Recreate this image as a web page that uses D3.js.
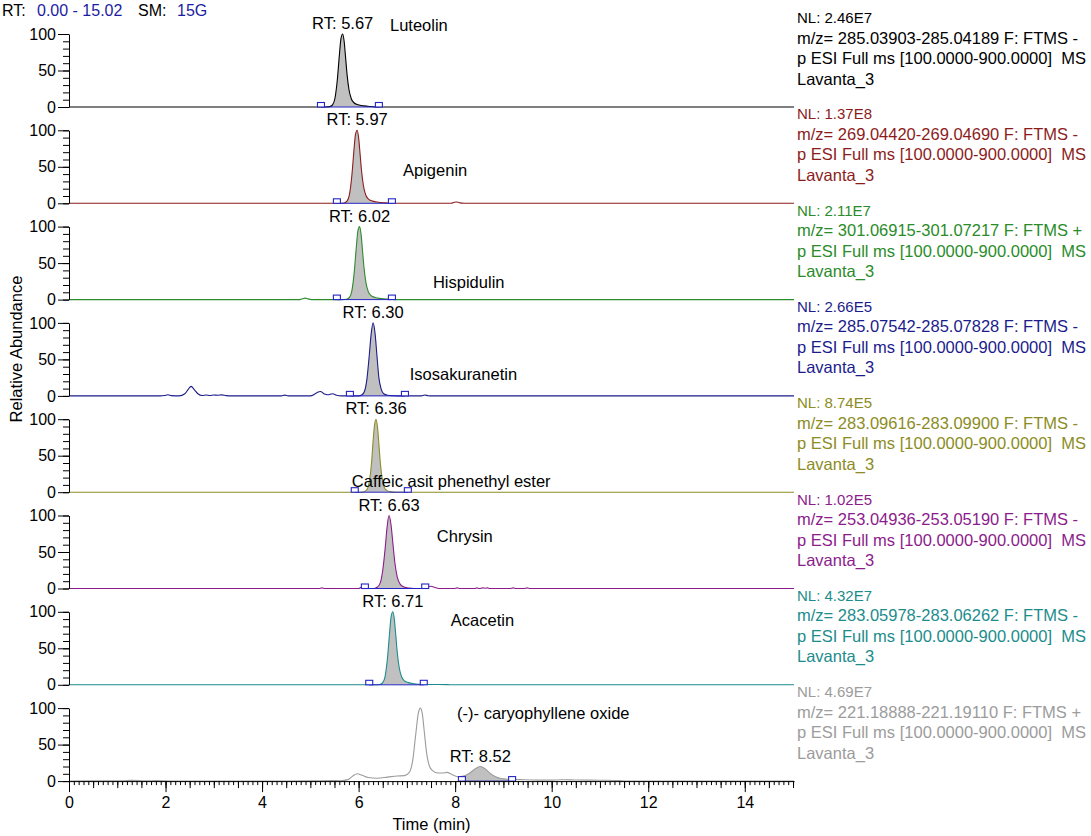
<!DOCTYPE html>
<html>
<head>
<meta charset="utf-8">
<script src="https://cdn.jsdelivr.net/npm/d3@7"></script>
<style>
  body { margin: 0; background: #fff; }
  svg { display: block; font-family: "Liberation Sans", Arial, sans-serif; }
  .pre { white-space: pre; }
</style>
</head>
<body>
<div id="chart"></div>
<script>
// ---- data ----
const timeRange = [0, 15.02];
const smoothing = "15G";
const sampleName = "Lavanta_3";
const scanFilter = "p ESI Full ms [100.0000-900.0000]  MS";
const xTicks = [0, 2, 4, 6, 8, 10, 12, 14];
const yTicks = [0, 50, 100];

const compounds = [
  "Luteolin", "Apigenin", "Hispidulin", "Isosakuranetin",
  "Caffeic asit phenethyl ester", "Chrysin", "Acacetin", "(-)- caryophyllene oxide"
];
const retentionTimes = ["5.67", "5.97", "6.02", "6.30", "6.36", "6.63", "6.71", "8.52"];
const normLevels = ["2.46E7", "1.37E8", "2.11E7", "2.66E5", "8.74E5", "1.02E5", "4.32E7", "4.69E7"];
const mzRanges = [
  "285.03903-285.04189", "269.04420-269.04690", "301.06915-301.07217", "285.07542-285.07828",
  "283.09616-283.09900", "253.04936-253.05190", "283.05978-283.06262", "221.18888-221.19110"
];
const polarities = ["-", "-", "+", "-", "-", "-", "-", "+"];
const peakBounds = [
  [5.22, 6.42], [5.55, 6.69], [5.55, 6.69], [5.82, 6.96],
  [5.92, 7.02], [6.13, 7.38], [6.22, 7.35], [8.14, 9.18]
];

// [time (min), relative abundance (%)]
const traces = [
  [[0,0],[5.3,0],[5.4,0.5],[5.46,3],[5.51,12],[5.56,38],[5.6,70],[5.635,94],[5.67,100],[5.7,90],[5.73,68],[5.76,45],[5.8,24],[5.85,11],[5.91,5.5],[5.99,3],[6.11,1.5],[6.26,0.6],[6.4,0],[15.02,0]],
  [[0,0],[5.6,0],[5.7,0.5],[5.76,3],[5.81,12],[5.86,38],[5.9,70],[5.935,94],[5.97,100],[6.0,90],[6.03,68],[6.06,45],[6.1,24],[6.15,11],[6.21,5.5],[6.29,3],[6.41,1.5],[6.56,0.6],[6.7,0],[7.92,0],[7.98,1.4],[8.04,1.8],[8.1,0.6],[8.18,0],[15.02,0]],
  [[0,0],[4.78,0],[4.84,1.2],[4.89,2],[4.95,1],[5.02,0],[5.65,0],[5.75,0.5],[5.81,3],[5.86,12],[5.91,38],[5.95,70],[5.985,94],[6.02,100],[6.05,90],[6.08,68],[6.11,45],[6.15,24],[6.2,11],[6.26,5.5],[6.34,3],[6.46,1.5],[6.61,0.6],[6.75,0],[15.02,0]],
  [[0,0],[1.9,0],[1.98,0.6],[2.05,1.5],[2.12,0.4],[2.28,0],[2.4,3],[2.47,9],[2.53,13],[2.59,9],[2.67,3],[2.76,0.6],[2.84,1.2],[2.92,0.5],[3.0,1.3],[3.08,0.9],[3.16,1.4],[3.26,0.4],[3.36,0],[4.4,0],[4.47,1],[4.54,0],[5.0,0],[5.08,2],[5.15,5],[5.21,6],[5.28,3],[5.36,1.5],[5.46,3],[5.54,1],[5.64,0],[6.0,0],[6.07,1.5],[6.12,6],[6.17,22],[6.22,55],[6.26,85],[6.3,100],[6.34,86],[6.38,55],[6.42,25],[6.47,9],[6.52,3],[6.6,1],[6.72,0.3],[6.85,0],[7.3,0],[7.37,1.2],[7.44,0.3],[7.52,0],[15.02,0]],
  [[0,0],[6.07,0],[6.14,1.5],[6.19,6],[6.23,18],[6.27,42],[6.3,70],[6.33,92],[6.36,100],[6.39,90],[6.42,66],[6.45,40],[6.49,18],[6.53,7],[6.58,2.5],[6.65,0.8],[6.77,0],[15.02,0]],
  [[0,0],[5.18,0],[5.24,0.8],[5.3,0],[6.0,0],[6.06,2],[6.11,3],[6.16,1],[6.22,0],[6.32,0],[6.39,2],[6.45,8],[6.5,25],[6.55,55],[6.59,84],[6.63,100],[6.67,88],[6.71,62],[6.75,36],[6.8,16],[6.86,6],[6.94,2],[7.04,0.5],[7.16,0],[7.36,0],[7.42,2],[7.5,3],[7.58,1.5],[7.66,0],[7.98,0],[8.04,0.8],[8.1,0],[8.4,0],[8.45,0.8],[8.5,0],[8.57,0.8],[8.62,0.4],[8.67,0.8],[8.72,0],[9.14,0],[9.2,0.8],[9.26,0],[9.43,0],[9.49,0.8],[9.55,0],[15.02,0]],
  [[0,0],[6.34,0],[6.44,0.5],[6.5,3],[6.55,12],[6.6,38],[6.64,70],[6.675,94],[6.71,100],[6.74,90],[6.77,68],[6.8,45],[6.84,24],[6.89,11],[6.95,5.5],[7.03,3],[7.15,1.5],[7.3,0.6],[7.45,0.5],[7.65,0.5],[7.85,0.3],[7.95,0],[15.02,0]],
  [[0,0],[0.4,0.3],[0.8,0.4],[1.1,0.3],[1.3,1],[1.45,0.8],[1.6,0.3],[1.8,0.6],[2.1,0.2],[3.0,0.2],[4.0,0.2],[5.0,0.3],[5.45,0.8],[5.62,0.4],[5.78,2],[5.88,7],[5.97,10],[6.07,8],[6.2,5],[6.38,4],[6.6,5.5],[6.8,7],[6.95,7.5],[7.05,12],[7.12,28],[7.18,62],[7.24,94],[7.28,100],[7.32,92],[7.36,68],[7.41,38],[7.47,20],[7.54,14],[7.64,11],[7.74,11],[7.83,12],[7.93,9],[8.05,6],[8.15,6.5],[8.28,10],[8.4,16],[8.52,20],[8.62,17],[8.72,11],[8.84,6],[8.95,3.5],[9.1,2.5],[9.34,2],[9.7,1.4],[10.0,1.4],[10.2,1.8],[10.5,1.5],[11.0,1.2],[11.4,0.8],[11.55,0],[15.02,0]]
];

// ---- styling / layout ----
const traceColors = ["#000000", "#8c1c1c", "#2a8c2a", "#1c1c8c", "#8c8c24", "#8c1c8c", "#1c8c8c", "#9c9c9c"];
// where the compound name sits, in [time, % of panel]
const nameAnchors = [[6.65, 104], [6.92, 37], [7.54, 16], [7.06, 22], [5.86, 7], [7.62, 64], [7.91, 81], [8.04, 85]];

class ChromatogramStack {
  constructor(el) {
    this.el = el;
    this.setup();
    this.scaffold();
    this.render();
  }

  setup() {
    this.width = 1091;
    this.height = 836;
    this.panelTop = 34;
    this.panelStep = 96.3;
    this.panelHeight = 73;
    this.font = "Liberation Sans, Arial, sans-serif";
    this.blue = "#2424c4";

    this.x = d3.scaleLinear().domain(timeRange).range([69, 794]);

    this.panels = compounds.map((name, i) => {
      const top = this.panelTop + i * this.panelStep;
      const points = traces[i];
      const [b0, b1] = peakBounds[i];
      const apex = points
        .filter((d) => d[0] >= b0 && d[0] <= b1)
        .reduce((a, d) => (d[1] > a[1] ? d : a));
      return {
        i,
        name,
        rt: retentionTimes[i],
        color: traceColors[i],
        points,
        bounds: peakBounds[i],
        apex,
        y: d3.scaleLinear().domain([0, 100]).range([top + this.panelHeight, top]),
      };
    });
  }

  scaffold() {
    this.svg = d3
      .select(this.el)
      .append("svg")
      .attr("width", this.width)
      .attr("height", this.height);

    const defs = this.svg.append("defs");
    this.panels.forEach((p) => {
      defs
        .append("clipPath")
        .attr("id", `peak-clip-${p.i}`)
        .append("rect")
        .attr("x", this.x(p.bounds[0]))
        .attr("width", this.x(p.bounds[1]) - this.x(p.bounds[0]))
        .attr("y", p.y(110))
        .attr("height", p.y(0) - p.y(110));
    });
  }

  render() {
    const x = this.x;

    // header
    const header = this.svg.append("g").attr("font-size", 16).attr("font-family", this.font);
    header.append("text").attr("x", 2).attr("y", 16).text("RT:");
    header.append("text").attr("x", 37).attr("y", 16).attr("fill", "#1c1ca0").text(`${timeRange[0].toFixed(2)} - ${timeRange[1].toFixed(2)}`);
    header.append("text").attr("x", 138).attr("y", 16).text("SM:");
    header.append("text").attr("x", 177).attr("y", 16).attr("fill", "#1c1ca0").text(smoothing);

    const panel = this.svg
      .selectAll(".panel")
      .data(this.panels)
      .join("g")
      .attr("class", "panel");

    panel.each((p, idx, nodes) => {
      const g = d3.select(nodes[idx]);
      const y = p.y;

      const line = d3.line().x((d) => x(d[0])).y((d) => y(d[1])).curve(d3.curveMonotoneX);
      const area = d3.area().x((d) => x(d[0])).y0(y(0)).y1((d) => y(d[1])).curve(d3.curveMonotoneX);

      g.append("path")
        .attr("d", area(p.points))
        .attr("clip-path", `url(#peak-clip-${p.i})`)
        .attr("fill", "#c0c0c0");

      g.append("path")
        .attr("d", line(p.points))
        .attr("fill", "none")
        .attr("stroke", p.color)
        .attr("stroke-width", 1.1);

      // integration baseline and boundary markers
      g.append("line")
        .attr("x1", x(p.bounds[0]))
        .attr("x2", x(p.bounds[1]))
        .attr("y1", y(0))
        .attr("y2", y(0))
        .attr("stroke", this.blue)
        .attr("stroke-width", 1);

      g.selectAll(".marker")
        .data(p.bounds)
        .join("rect")
        .attr("class", "marker")
        .attr("x", (d) => x(d) - 3.5)
        .attr("y", y(0) - 4.5)
        .attr("width", 7)
        .attr("height", 4.5)
        .attr("fill", "#fff")
        .attr("stroke", this.blue)
        .attr("stroke-width", 1.1);

      // y axis
      const minor = g.append("g")
        .attr("transform", `translate(${x(timeRange[0])},0)`)
        .call(d3.axisLeft(y).ticks(10).tickSize(6).tickSizeOuter(0).tickFormat(""));
      minor.select(".domain").remove();

      const yAxis = g.append("g")
        .attr("transform", `translate(${x(timeRange[0])},0)`)
        .call(d3.axisLeft(y).tickValues(yTicks).tickSize(11).tickSizeOuter(0).tickPadding(2));
      yAxis.attr("font-family", this.font).attr("font-size", 16);
      yAxis.selectAll("line, path").attr("stroke", "#000");

      // RT label above apex
      g.append("text")
        .attr("x", x(p.apex[0]))
        .attr("y", y(p.apex[1]) - 5)
        .attr("text-anchor", "middle")
        .attr("font-size", 16.5)
        .text(`RT: ${p.rt}`);

      // compound name
      const anchor = nameAnchors[p.i];
      g.append("text")
        .attr("x", x(anchor[0]))
        .attr("y", y(anchor[1]))
        .attr("font-size", 16.5)
        .text(p.name);

      // right info block
      const info = g.append("g")
        .attr("transform", `translate(797,${y(100)})`)
        .attr("fill", p.color);
      info.append("text").attr("y", -11).attr("font-size", 15).text(`NL: ${normLevels[p.i]}`);
      info.append("text").attr("y", 9.5).attr("font-size", 16.5).attr("class", "pre")
        .text(`m/z= ${mzRanges[p.i]} F: FTMS ${polarities[p.i]}`);
      info.append("text").attr("y", 30).attr("font-size", 16.5).attr("class", "pre").text(scanFilter);
      info.append("text").attr("y", 50.5).attr("font-size", 16.5).text(sampleName);
    });

    // shared time axis under the last panel
    const last = this.panels[this.panels.length - 1];
    const base = last.y(0);
    const minorX = this.svg.append("g")
      .attr("transform", `translate(0,${base})`)
      .call(d3.axisBottom(x).ticks(150).tickSize(4).tickSizeOuter(0).tickFormat(""));
    minorX.select(".domain").remove();
    const midX = this.svg.append("g")
      .attr("transform", `translate(0,${base})`)
      .call(d3.axisBottom(x).ticks(30).tickSize(7).tickSizeOuter(0).tickFormat(""));
    midX.select(".domain").remove();
    const xAxis = this.svg.append("g")
      .attr("transform", `translate(0,${base})`)
      .call(d3.axisBottom(x).tickValues(xTicks).tickSize(11).tickSizeOuter(0).tickPadding(5));
    xAxis.attr("font-family", this.font).attr("font-size", 16);

    this.svg.append("text")
      .attr("x", (x.range()[0] + x.range()[1]) / 2)
      .attr("y", 830)
      .attr("text-anchor", "middle")
      .attr("font-size", 16.5)
      .text("Time (min)");

    this.svg.append("text")
      .attr("transform", `translate(22,349) rotate(-90)`)
      .attr("text-anchor", "middle")
      .attr("font-size", 16.5)
      .text("Relative Abundance");
  }
}

new ChromatogramStack(document.getElementById("chart"));
</script>
</body>
</html>
